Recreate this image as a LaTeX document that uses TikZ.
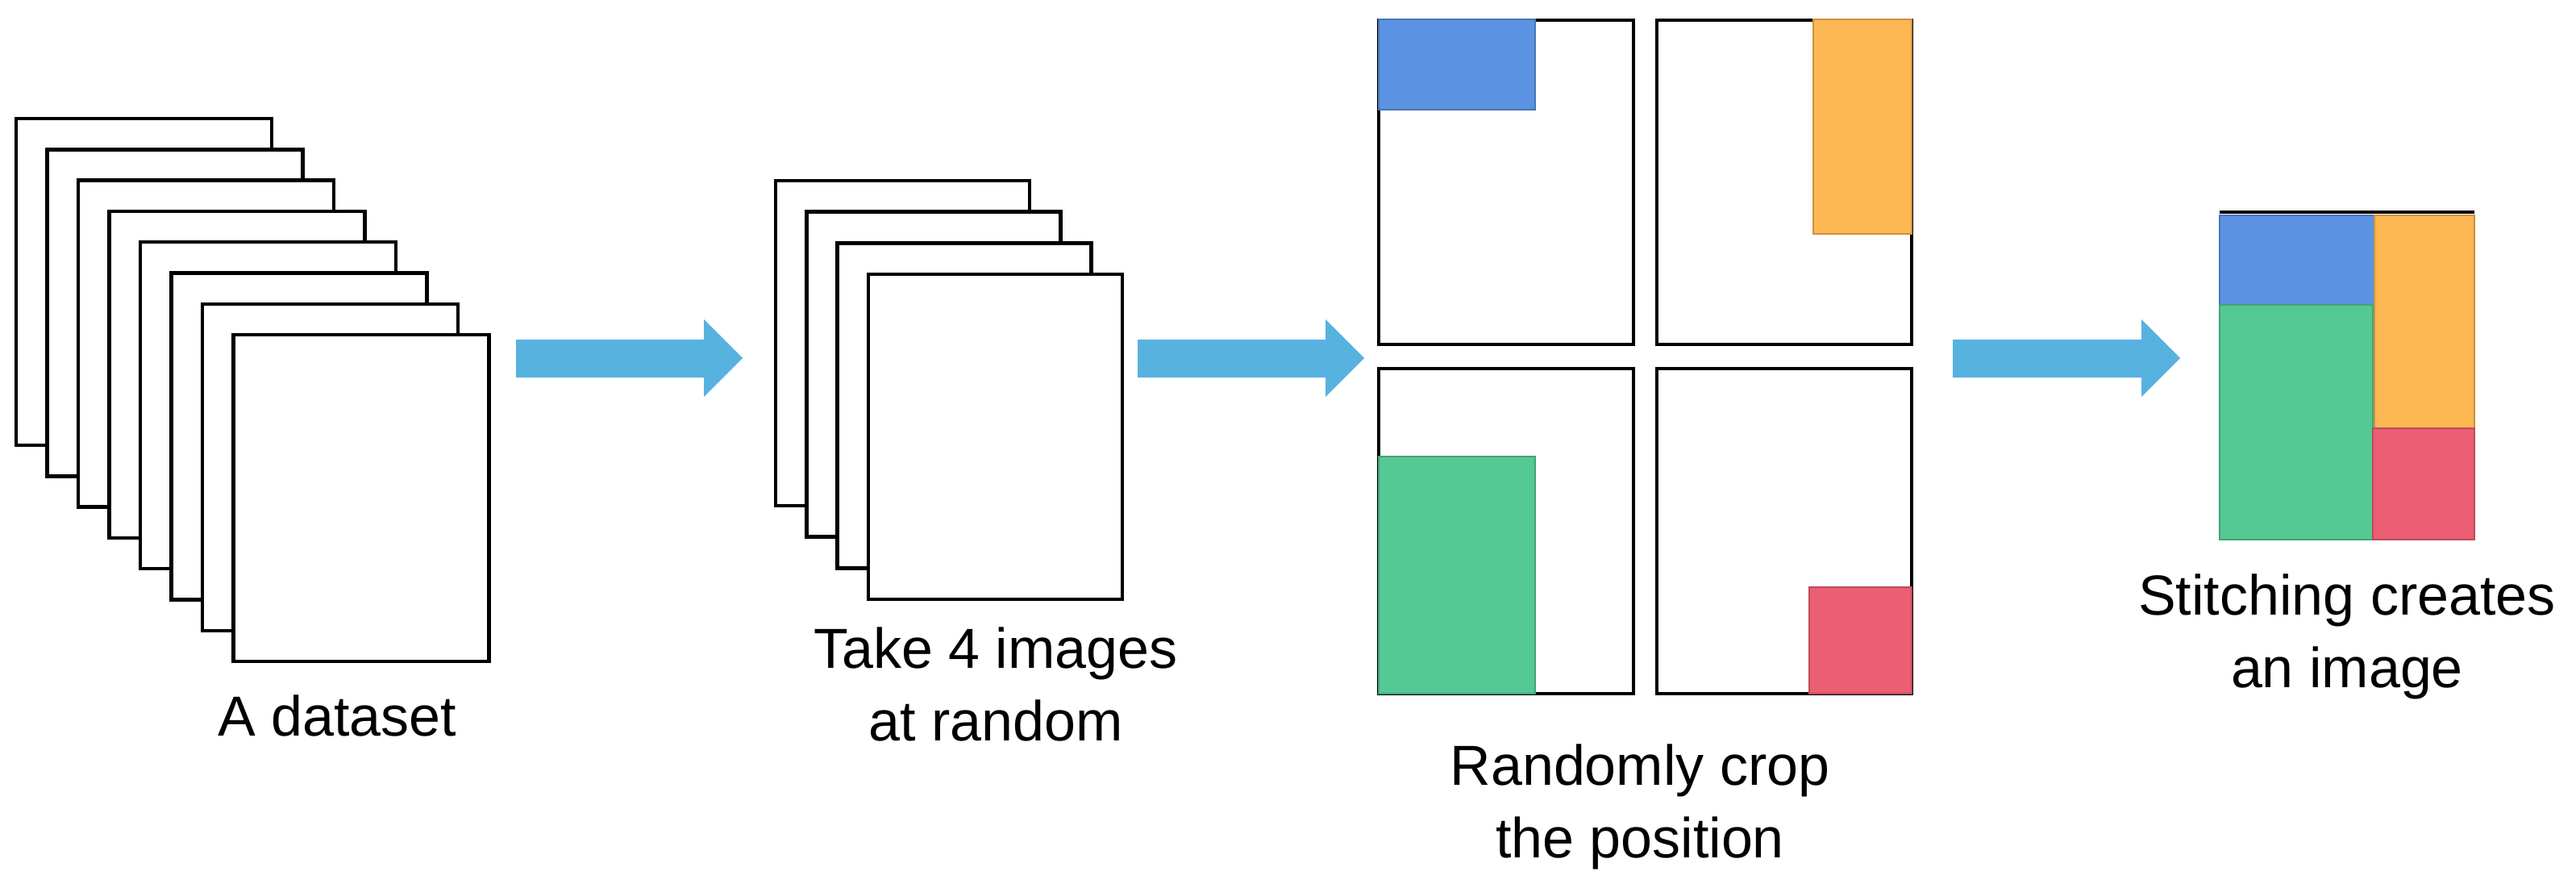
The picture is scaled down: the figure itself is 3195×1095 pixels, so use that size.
\documentclass[tikz,border=0pt]{standalone}
\usepackage{fontspec}
\setmainfont{Liberation Sans}
\definecolor{cblue}{HTML}{5B93E2}
\definecolor{corange}{HTML}{FDB752}
\definecolor{cgreen}{HTML}{55C993}
\definecolor{cred}{HTML}{EB5E73}
\definecolor{carrow}{HTML}{57B2E0}
\begin{document}
\begin{tikzpicture}[x=1pt,y=-1pt,
  sheet/.style={draw=black,fill=white,line width=4.5pt},
  crop/.style={line width=2pt},
  lbl/.style={font=\fontsize{70}{90}\selectfont,align=center},
  bigarrow/.style={fill=carrow,draw=none}]
\useasboundingbox (0,0) rectangle (3195,1095);
% dataset stack
\foreach \i in {0,...,7}{
  \draw[sheet] ({20+38.5*\i},{147+38.3*\i}) rectangle ({337+38.5*\i},{552+38.3*\i});
}
\node[lbl] (l1) at (418,887) {A dataset};
% arrow 1
\fill[bigarrow] (640,421) -- (873,421) -- (873,396) -- (921,444) -- (873,492) -- (873,468) -- (640,468) -- cycle;
% 4 images stack
\foreach \i in {0,...,3}{
  \draw[sheet] ({962+38.3*\i},{224+38.7*\i}) rectangle ({1277+38.3*\i},{627+38.7*\i});
}
\node[lbl] (l2) at (1235,848) {Take 4 images\\at random};
% arrow 2
\fill[bigarrow] (1411,421) -- (1644,421) -- (1644,396) -- (1692,444) -- (1644,492) -- (1644,468) -- (1411,468) -- cycle;
% grid
\draw[sheet] (1710,25) rectangle (2026,427);
\draw[sheet] (2055,25) rectangle (2371,427);
\draw[sheet] (1710,457) rectangle (2026,860);
\draw[sheet] (2055,457) rectangle (2371,860);
\filldraw[crop,fill=cblue,draw=cblue!80!black] (1710,24) rectangle (1904,136);
\filldraw[crop,fill=corange,draw=corange!80!black] (2249,24) rectangle (2371,290);
\filldraw[crop,fill=cgreen,draw=cgreen!80!black] (1710,566) rectangle (1904,860);
\filldraw[crop,fill=cred,draw=cred!80!black] (2244,728) rectangle (2371,860);
\node[lbl] (l3) at (2034,1000) {Randomly crop\\the position};
% arrow 3
\fill[bigarrow] (2422,421) -- (2656,421) -- (2656,396) -- (2704,444) -- (2656,492) -- (2656,468) -- (2422,468) -- cycle;
% stitched
\draw[line width=4.5pt] (2753,263) -- (3069,263);
\filldraw[crop,fill=cblue,draw=cblue!80!black] (2753,267) rectangle (2945,378);
\filldraw[crop,fill=corange,draw=corange!80!black] (2945,267) rectangle (3069,531);
\filldraw[crop,fill=cgreen,draw=cgreen!80!black] (2753,378) rectangle (2943,669);
\filldraw[crop,fill=cred,draw=cred!80!black] (2943,531) rectangle (3069,669);
\node[lbl] (l4) at (2911,789) {Stitching creates\\an image};
\end{tikzpicture}
\end{document}
